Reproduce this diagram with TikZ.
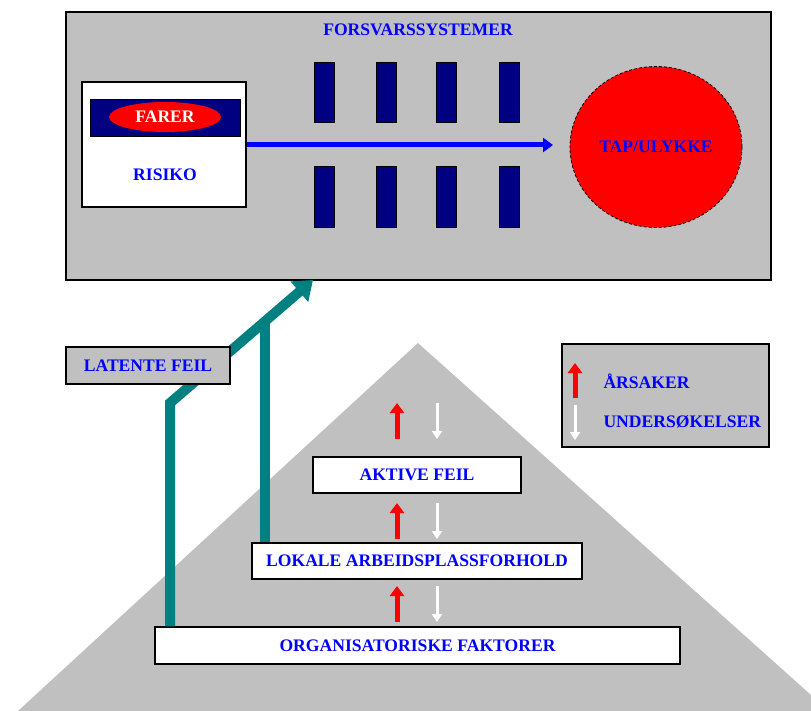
\documentclass[tikz,border=0pt]{standalone}
\usepackage{fontspec}
\setmainfont{Liberation Serif}
\usetikzlibrary{arrows.meta,shapes.geometric}
\definecolor{silv}{RGB}{192,192,192}
\definecolor{navy}{RGB}{0,0,128}
\definecolor{tealc}{RGB}{0,128,128}
\tikzset{
  lbl/.style={font=\bfseries\fontsize{17.6}{19}\selectfont, text=blue},
  whitebox/.style={draw=black, line width=1.2pt, fill=white},
  graybox/.style={draw=black, line width=1.2pt, fill=silv},
  bar/.style={draw=black, line width=0.8pt, fill=navy},
  redup/.style={red, line width=5pt, -{Triangle[width=14pt,length=10pt]}},
  whitedown/.style={white, line width=3pt, -{Triangle[width=10pt,length=8pt]}},
  tealarrow/.style={tealc, line width=10pt},
}
\begin{document}
\begin{tikzpicture}[x=1pt,y=-1pt]
\useasboundingbox (0,0) rectangle (811,711);
% triangle
\fill[silv] (418,343) -- (811,695) -- (811,711) -- (18,711) -- cycle;
% main box
\draw[graybox] (66,12) rectangle (771,280);
\node[lbl] (fs) at (418,30) {FORSVARSSYSTEMER};
\coordinate (mainbot) at (313,280);
% risiko box
\node[whitebox, minimum width=164pt, minimum height=125pt, inner sep=0pt] (risk) at (164,144.5) {};
\node[draw=black, line width=1pt, fill=navy, minimum width=150pt, minimum height=37pt, inner sep=0pt] (farerbg) at (165,118.5) {};
\node[ellipse, fill=red, minimum width=112pt, minimum height=30pt, inner sep=0pt] (farer) at (165,117) {};
\node[lbl, text=white] at (farer) {FARER};
\node[lbl] (ris) at (165,175) {RISIKO};
% bars
\foreach \x [count=\i] in {324,386,446,509}{
  \node[bar, minimum width=20pt, minimum height=60pt, inner sep=0pt] (bt\i) at (\x,92) {};
  \node[bar, minimum width=20pt, minimum height=61pt, inner sep=0pt] (bb\i) at (\x,196.5) {};
}
% accident circle
\node[ellipse, fill=red, draw=black, densely dashed, line width=0.8pt, minimum width=172pt, minimum height=161pt, inner sep=0pt] (tap) at (656,147) {};
\node[lbl] at (tap) {TAP/ULYKKE};
\coordinate (arrend) at (553,145);
\draw[blue, line width=5pt, -{Triangle[width=14pt,length=10pt]}] (risk.east |- arrend) -- (arrend);
% legend
\node[graybox, minimum width=207pt, minimum height=103pt, inner sep=0pt] (leg) at (665.5,395.5) {};
\draw[redup] (575,398) -- (575,363);
\node[lbl, anchor=west] (ars) at (600,381) {ÅRSAKER};
\draw[whitedown] (575,405) -- (575,440);
\node[lbl, anchor=west] (und) at (600,422) {UNDERSØKELSER};
% pyramid levels
\node[whitebox, minimum width=208pt, minimum height=36pt, inner sep=0pt] (akt) at (417,475) {};
\node[lbl] at (akt) {AKTIVE FEIL};
\node[whitebox, minimum width=330pt, minimum height=36pt, inner sep=0pt] (lok) at (417,561) {};
\node[lbl] at (lok) {LOKALE ARBEIDSPLASSFORHOLD};
\node[whitebox, minimum width=525pt, minimum height=37pt, inner sep=0pt] (org) at (417.5,645.5) {};
\node[lbl] at (org) {ORGANISATORISKE FAKTORER};
% red/white pairs
\foreach \ya/\yb in {439/403, 539/503, 622/586}{
  \draw[redup] (397,\ya) -- (397,\yb);
  \draw[whitedown] (437,\yb) -- (437,\ya);
}
% teal arrows
\coordinate (bend) at (170,403);
\draw[tealarrow] (lok.north -| 265,0) -- (265,323);
\draw[tealarrow, -{Triangle[width=26pt,length=18pt]}, line join=miter] (org.north -| 170,0) -- (bend) -- (mainbot);
% latente feil (drawn over the teal arrow)
\node[graybox, minimum width=164pt, minimum height=37pt, inner sep=0pt] (lat) at (148,365.5) {};
\node[lbl] at (lat) {LATENTE FEIL};
\end{tikzpicture}
\end{document}
